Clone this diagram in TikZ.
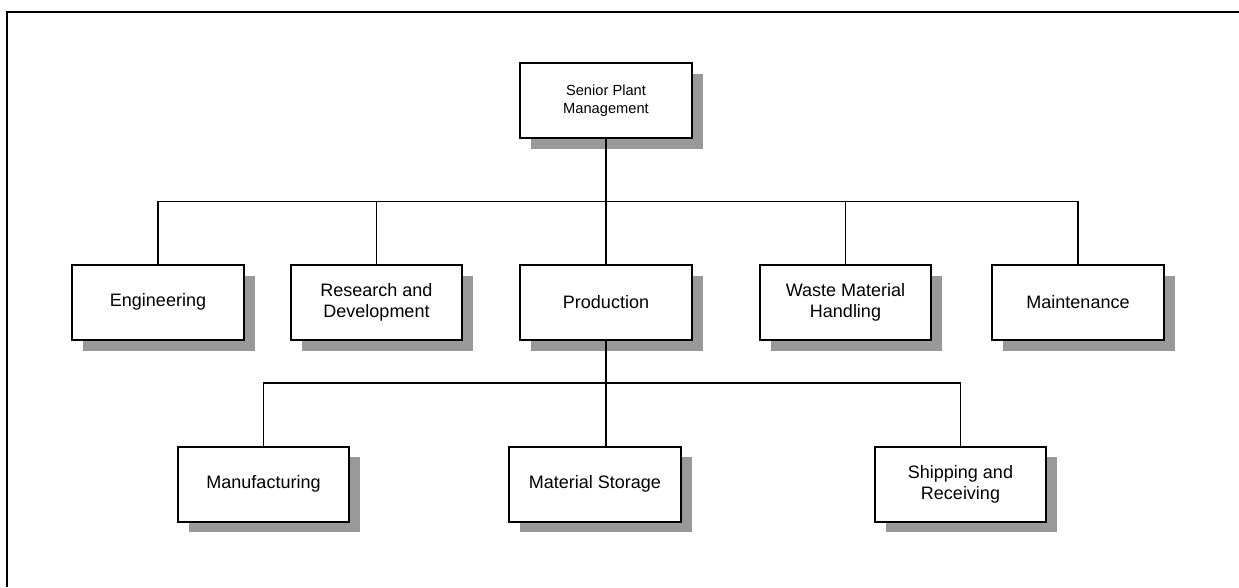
\documentclass[tikz,border=0pt]{standalone}
\usepackage{fontspec}
\setmainfont{Liberation Sans}
\usetikzlibrary{positioning,shadows,calc}

\begin{document}
\begin{tikzpicture}[x=0.6pt, y=0.6pt, every node/.style={font=\fontsize{10.8}{12.5}\selectfont},
			unit/.style={draw, line width=1.1pt, fill=white, align=center, inner sep=2pt,
				minimum width=103pt, minimum height=45pt,
				drop shadow={shadow xshift=6.6pt, shadow yshift=-6.4pt, fill=black!40, opacity=1}},
			link/.style={line width=1.1pt}]
			\useasboundingbox (0,0) rectangle (1239,-587);
			% page frame, top and left edge only
			\draw[line width=1.3pt] (7,-587) -- (7,-12) -- (1239,-12);
			% top of the chart
			\node[unit, font=\fontsize{8.8}{10.5}\selectfont] (senior) at (606,-100.5) {Senior Plant\\Management};
			% departments
			\node[unit, below=75pt of senior] (prod) {Production};
			\node[unit, left=33.6pt of prod] (rd) {Research and\\Development};
			\node[unit, left=27pt of rd] (eng) {Engineering};
			\node[unit, right=39.6pt of prod] (waste) {Waste Material\\Handling};
			\node[unit, right=35.4pt of waste] (maint) {Maintenance};
			% under production
			\node[unit, below=63pt of prod, xshift=-6.6pt] (store) {Material Storage};
			\node[unit, left=94.8pt of store] (mfg) {Manufacturing};
			\node[unit, right=115.2pt of store] (ship) {Shipping and\\Receiving};
			\coordinate (topbus) at ($(senior.south)!0.5!(prod.north)$);
			\coordinate (lowbus) at ($(prod.south)!0.4!(store.north)$);
			\draw[link] (senior.south) -- (prod.north);
			\draw[link] (eng.north) |- (topbus) -| (maint.north);
			\foreach \n in {rd,waste}
				\draw[link] (\n.north) -- (\n.north |- topbus);
			\draw[link] (prod.south) -- (prod.south |- store.north);
			\draw[link] (mfg.north) |- (lowbus) -| (ship.north);
		\end{tikzpicture}
\end{document}
